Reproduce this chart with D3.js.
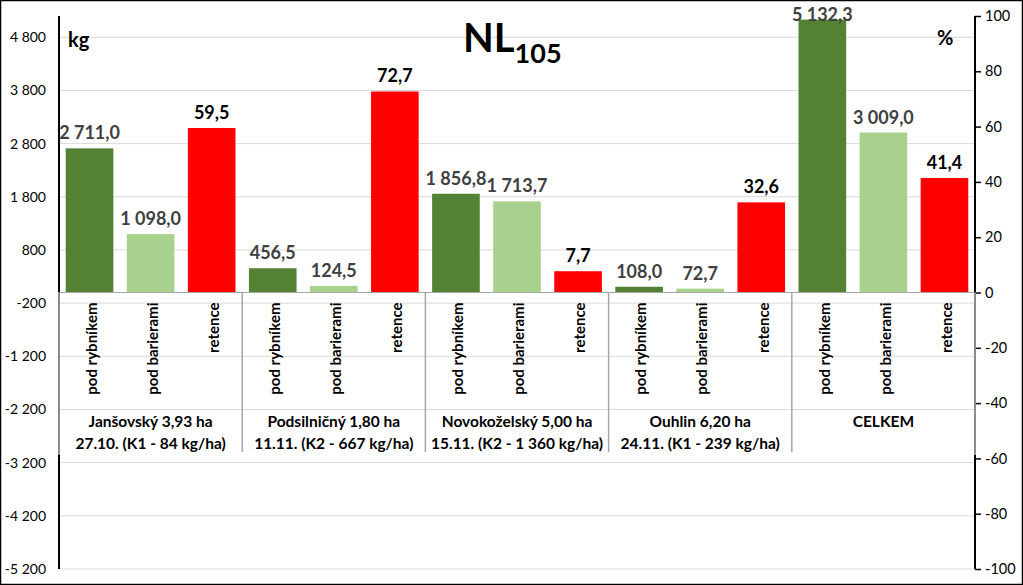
<!DOCTYPE html>
<html><head><meta charset="utf-8">
<script src="https://cdn.jsdelivr.net/npm/d3@7"></script>
<style>body{margin:0;background:#fff;} svg{display:block;font-family:Lato,"Open Sans",sans-serif;}</style>
</head><body><svg id="c" width="1023" height="585"></svg>
<script>
const groups = ["Janšovský 3,93 ha|27.10. (K1 - 84 kg/ha)","Podsilničný 1,80 ha|11.11. (K2 - 667 kg/ha)","Novokoželský 5,00 ha|15.11. (K2 - 1 360 kg/ha)","Ouhlin 6,20 ha|24.11. (K1 - 239 kg/ha)","CELKEM"];
const subCats = ["pod rybníkem","pod barierami","retence"];
const podRybnikem = [2711.0, 456.5, 1856.8, 108.0, 5132.3];
const podBarierami = [1098.0, 124.5, 1713.7, 72.7, 3009.0];
const retence = [59.5, 72.7, 7.7, 32.6, 41.4];
const leftTicks = [-5200,-4200,-3200,-2200,-1200,-200,800,1800,2800,3800,4800];
const rightTicks = [-100,-80,-60,-40,-20,0,20,40,60,80,100];

const svg = d3.select("#c");
const L=59, R=975, T=16, B=569, catBottom=452;
const yL = d3.scaleLinear().domain([-5200,5200]).range([B,T]);
const yR = d3.scaleLinear().domain([-100,100]).range([B,T]);
const x0 = d3.scaleBand().domain(d3.range(groups.length)).range([L,R]).padding(0);
const x1 = d3.scaleBand().domain(subCats).range([0,x0.bandwidth()]).paddingInner(0.22).paddingOuter(0.11);
const fmtKg = v => d3.format(",.1f")(v).replace(/,/g," ").replace(".",",");
const fmtTick = v => d3.format(",")(v).replace(/,/g," ").replace("−","-");
const fmtPct = v => d3.format(".1f")(v).replace(".",",");

svg.append("g").selectAll("line").data(leftTicks).join("line")
  .attr("x1",L).attr("x2",R).attr("y1",d=>yL(d)).attr("y2",d=>yL(d))
  .attr("stroke","#d9d9d9").attr("stroke-width",1);

svg.append("g").selectAll("text").data(leftTicks).join("text")
  .attr("x",46).attr("y",d=>yL(d)).attr("dy","0.35em").attr("text-anchor","end")
  .attr("font-size",14).attr("fill","#000").text(fmtTick);

const ra = svg.append("g").attr("transform",`translate(${R},0)`)
  .call(d3.axisRight(yR).tickValues(rightTicks).tickSize(6).tickPadding(4).tickFormat(d=>String(d)));
ra.select(".domain").remove();
ra.selectAll("line").attr("stroke","#000").attr("stroke-width",1.5);
ra.selectAll("text").attr("font-size",14.5).attr("fill","#000").attr("font-family","Lato,sans-serif");

const data = [];
groups.forEach((g,i)=>{
  data.push({g:i,k:subCats[0],v:podRybnikem[i],ax:"L",c:"#548235"});
  data.push({g:i,k:subCats[1],v:podBarierami[i],ax:"L",c:"#a9d18e"});
  data.push({g:i,k:subCats[2],v:retence[i],ax:"R",c:"#ff0000"});
});
const ys = d=> d.ax==="L"?yL:yR;
svg.append("g").selectAll("rect").data(data).join("rect")
  .attr("x",d=>x0(d.g)+x1(d.k)).attr("width",x1.bandwidth())
  .attr("y",d=>ys(d)(d.v)).attr("height",d=>ys(d)(0)-ys(d)(d.v))
  .attr("fill",d=>d.c);

svg.append("g").selectAll("text").data(data).join("text")
  .attr("x",d=>x0(d.g)+x1(d.k)+x1.bandwidth()/2).attr("y",d=>Math.max(ys(d)(d.v)-9, 21))
  .attr("text-anchor","middle").attr("font-size",18).attr("font-weight","bold")
  .attr("fill",d=>d.ax==="L"?"#404040":"#000")
  .text(d=>d.ax==="L"?fmtKg(d.v):fmtPct(d.v));

const zero = yL(0);
svg.append("line").attr("x1",L).attr("x2",R).attr("y1",zero).attr("y2",zero).attr("stroke","#a6a6a6").attr("stroke-width",1);
svg.append("g").selectAll("line").data(d3.range(1,groups.length)).join("line")
  .attr("x1",d=>x0(d)).attr("x2",d=>x0(d)).attr("y1",zero).attr("y2",catBottom)
  .attr("stroke","#a6a6a6").attr("stroke-width",1.5);

svg.append("g").selectAll("text").data(data).join("text")
  .attr("transform",d=>`translate(${x0(d.g)+x1(d.k)+x1.bandwidth()/2+2},${zero+10}) rotate(-90)`)
  .attr("text-anchor","end").attr("dy","0.35em").attr("font-size",15).attr("font-weight","bold")
  .attr("fill","#000").text(d=>d.k);

groups.forEach((g,i)=>{
  const lines = g.split("|");
  lines.forEach((ln,j)=>{
    svg.append("text").attr("x",x0(i)+x0.bandwidth()/2).attr("y",427+j*22)
      .attr("text-anchor","middle").attr("font-size",15.5).attr("font-weight","bold").attr("fill","#000").text(ln);
  });
});

[[L],[R]].forEach(([xx])=>{
  svg.append("line").attr("x1",xx).attr("x2",xx).attr("y1",T).attr("y2",zero).attr("stroke","#000").attr("stroke-width",2);
  svg.append("line").attr("x1",xx).attr("x2",xx).attr("y1",zero).attr("y2",catBottom+3).attr("stroke","#8c8c8c").attr("stroke-width",2);
  svg.append("line").attr("x1",xx).attr("x2",xx).attr("y1",catBottom+3).attr("y2",B).attr("stroke","#000").attr("stroke-width",2);
});

svg.append("text").attr("x",68).attr("y",47).attr("font-size",20).attr("font-weight","bold").text("kg");
svg.append("text").attr("x",937).attr("y",45).attr("font-size",20).attr("font-weight","bold").text("%");

const t = svg.append("text").attr("x",463).attr("y",52).attr("font-weight","bold").attr("fill","#000");
t.append("tspan").attr("font-size",40).text("NL");
t.append("tspan").attr("font-size",27).attr("dy",11).text("105");

svg.append("rect").attr("x",0.5).attr("y",0.5).attr("width",1022).attr("height",584).attr("fill","none").attr("stroke","#000").attr("stroke-width",1.5);
</script></body></html>
